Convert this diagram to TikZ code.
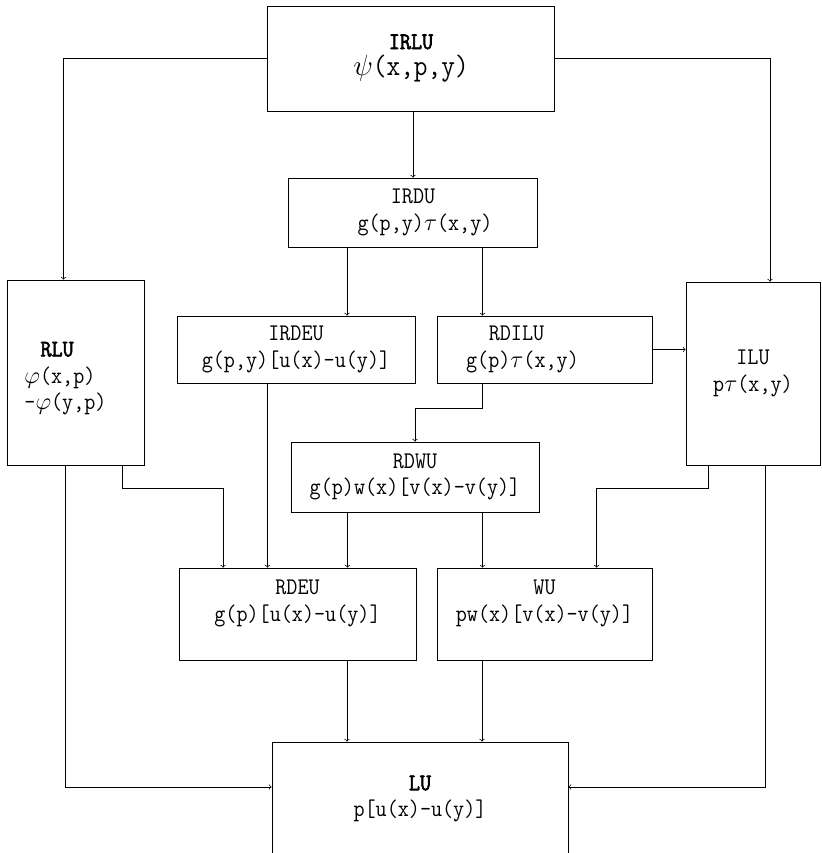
\documentclass[tikz,border=0pt]{standalone}
\usepackage{fontspec}
\newfontfamily\diagfont[FakeStretch=0.9,BoldFont={Latin Modern Mono},BoldFeatures={FakeBold=2.5}]{Latin Modern Mono}
\usepackage{tikz}

\begin{document}
\begin{tikzpicture}[x=0.025cm,y=-0.025cm,line width=0.5pt,
  box/.style={draw,align=center,inner sep=2pt,font=\diagfont\fontsize{17}{19}\selectfont}]
\path[use as bounding box] (0,0) rectangle (821,853);
\clip (0,0) rectangle (821,853);

\node(irlu)  [box,minimum width=7.175cm,minimum height=2.625cm] at (411,58.5)
  {\textbf{IRLU}\\ {\fontsize{21}{22}\selectfont$\psi$(x,p,y)}};
\node(irdu)  [box,minimum width=6.225cm,minimum height=1.725cm] at (413,212.5) {IRDU\\ \hspace*{0.6cm}g(p,y)$\tau$(x,y)};
\node(irdeu) [box,minimum width=5.95cm,minimum height=1.675cm] at (296,349.5) {IRDEU\\ g(p,y)[u(x)-u(y)]};
\node(rdilu) [box,minimum width=5.375cm,minimum height=1.675cm] at (544.5,349.5)
  {RDILU\hspace*{1.4cm}\\ g(p)$\tau$(x,y)\hspace*{1.1cm}};
\node(rlu)   [box,align=left,minimum width=3.425cm,minimum height=4.625cm] at (75.5,372.5)
  {\mbox{}\\ \hspace*{0.4cm}\textbf{RLU}\\ $\varphi$(x,p)\\ -$\varphi$(y,p)\hspace*{0.5cm}};
\node(ilu)   [box,minimum width=3.35cm,minimum height=4.575cm] at (753,373.5) {ILU\\ p$\tau$(x,y)};
\node(rdwu)  [box,minimum width=6.2cm,minimum height=1.75cm] at (415,477) {RDWU\\ g(p)w(x)[v(x)-v(y)]};
\node(rdeu)  [box,minimum width=5.925cm,minimum height=2.3cm] at (297.5,614) {RDEU\\ g(p)[u(x)-u(y)]\\ \mbox{}};
\node(wu)    [box,minimum width=5.375cm,minimum height=2.3cm] at (544.5,614) {WU\\ pw(x)[v(x)-v(y)]\\ \mbox{}};
\node(lu)    [box,minimum width=7.4cm,minimum height=2.85cm] at (420,799) {\textbf{LU}\\ p[u(x)-u(y)]};

\draw[->] (irlu.south -| irdu.north) to (irdu.north);
\draw[->] (irlu.west) -| ([xshift=-0.3cm]rlu.north);
\draw[->] (irlu.east) -| ([xshift=0.425cm]ilu.north);
\draw[->] ([xshift=1.275cm]irdeu.north |- irdu.south) to ([xshift=1.275cm]irdeu.north);
\draw[->] ([xshift=-1.55cm]rdilu.north |- irdu.south) to ([xshift=-1.55cm]rdilu.north);
\draw[->] (rdilu.east) to (rdilu.east -| ilu.west);
\draw[->] ([xshift=-0.75cm]rdeu.north |- irdeu.south) to ([xshift=-0.75cm]rdeu.north);
\draw[->] ([xshift=-1.55cm]rdilu.south) -- ++(0,-0.625cm) -| (rdwu.north);
\draw[->] ([xshift=1.25cm]rdeu.north |- rdwu.south) to ([xshift=1.25cm]rdeu.north);
\draw[->] ([xshift=-1.55cm]wu.north |- rdwu.south) to ([xshift=-1.55cm]wu.north);
\draw[->] ([xshift=1.16cm]rlu.south) -- ++(0,-0.575cm) -| ([xshift=-1.86cm]rdeu.north);
\draw[->] ([xshift=-1.125cm]ilu.south) -- ++(0,-0.575cm) -| ([xshift=1.3cm]wu.north);
\draw[->] ([xshift=-0.25cm]rlu.south) |- ([yshift=0.3cm]lu.west);
\draw[->] ([xshift=0.3cm]ilu.south) |- ([yshift=0.3cm]lu.east);
\draw[->] ([xshift=-1.825cm]lu.north |- rdeu.south) to ([xshift=-1.825cm]lu.north);
\draw[->] ([xshift=1.55cm]lu.north |- wu.south) to ([xshift=1.55cm]lu.north);
\end{tikzpicture}
\end{document}
